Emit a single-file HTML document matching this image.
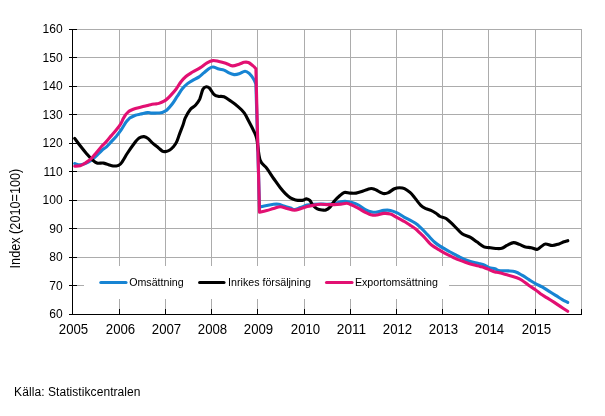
<!DOCTYPE html>
<html><head><meta charset="utf-8"><title>Index (2010=100)</title>
<style>
html,body{margin:0;padding:0;background:#fff;}
body{width:605px;height:416px;overflow:hidden;position:relative;font-family:"Liberation Sans",Arial,sans-serif;color:#000;}
svg{position:absolute;left:0;top:0;display:block;}
text{font-family:"Liberation Sans",Arial,sans-serif;fill:#000;}
</style></head><body>
<svg width="605" height="416" viewBox="0 0 605 416">
<rect width="605" height="416" fill="#fff"/>
<g shape-rendering="crispEdges" fill="#acacac">
<rect x="73" y="29" width="509" height="1"/>
<rect x="73" y="57" width="509" height="1"/>
<rect x="73" y="86" width="509" height="1"/>
<rect x="73" y="114" width="509" height="1"/>
<rect x="73" y="143" width="509" height="1"/>
<rect x="73" y="171" width="509" height="1"/>
<rect x="73" y="200" width="509" height="1"/>
<rect x="73" y="228" width="509" height="1"/>
<rect x="73" y="257" width="509" height="1"/>
<rect x="73" y="285" width="509" height="1"/>
<rect x="119" y="29" width="1" height="285"/>
<rect x="165" y="29" width="1" height="285"/>
<rect x="211" y="29" width="1" height="285"/>
<rect x="257" y="29" width="1" height="285"/>
<rect x="304" y="29" width="1" height="285"/>
<rect x="350" y="29" width="1" height="285"/>
<rect x="396" y="29" width="1" height="285"/>
<rect x="442" y="29" width="1" height="285"/>
<rect x="488" y="29" width="1" height="285"/>
<rect x="535" y="29" width="1" height="285"/>
<rect x="581" y="29" width="1" height="285"/>
</g>
<rect x="84" y="266" width="365" height="33" fill="#fff"/>
<g shape-rendering="crispEdges" fill="#000">
<rect x="72" y="29" width="1" height="286"/>
<rect x="69" y="314" width="513" height="1"/>
<rect x="69" y="29" width="8" height="1"/>
<rect x="69" y="57" width="8" height="1"/>
<rect x="69" y="86" width="8" height="1"/>
<rect x="69" y="114" width="8" height="1"/>
<rect x="69" y="143" width="8" height="1"/>
<rect x="69" y="171" width="8" height="1"/>
<rect x="69" y="200" width="8" height="1"/>
<rect x="69" y="228" width="8" height="1"/>
<rect x="69" y="257" width="8" height="1"/>
<rect x="69" y="285" width="8" height="1"/>
<rect x="119" y="309" width="1" height="5"/>
<rect x="165" y="309" width="1" height="5"/>
<rect x="211" y="309" width="1" height="5"/>
<rect x="257" y="309" width="1" height="5"/>
<rect x="304" y="309" width="1" height="5"/>
<rect x="350" y="309" width="1" height="5"/>
<rect x="396" y="309" width="1" height="5"/>
<rect x="442" y="309" width="1" height="5"/>
<rect x="488" y="309" width="1" height="5"/>
<rect x="535" y="309" width="1" height="5"/>
<rect x="581" y="309" width="1" height="5"/>
</g>
<g fill="none" stroke-width="3.1" stroke-linecap="round" stroke-linejoin="round">
<path stroke="#1784d3" d="M74.7,163.6C75.6,163.8 78.3,164.8 80.1,164.8C81.8,164.8 83.4,164.2 85.2,163.5C87.0,162.8 89.1,161.8 91.0,160.5C92.9,159.2 94.9,157.3 96.7,155.6C98.5,153.9 100.1,152.0 101.7,150.5C103.3,149.0 104.8,148.3 106.5,146.8C108.2,145.3 109.9,143.2 111.6,141.4C113.3,139.6 114.9,137.9 116.6,135.9C118.2,133.9 119.9,131.6 121.5,129.3C123.1,127.0 124.9,123.8 126.0,122.2C127.1,120.6 127.5,120.3 128.2,119.6C128.9,118.8 129.2,118.4 130.4,117.7C131.6,117.0 133.7,115.8 135.4,115.2C137.1,114.6 138.5,114.5 140.5,114.1C142.5,113.7 145.8,112.8 147.5,112.6C149.2,112.4 149.8,113.0 151.0,113.1C152.2,113.2 153.3,113.1 155.0,113.1C156.7,113.0 159.2,113.1 160.9,112.8C162.6,112.5 163.9,111.6 165.0,111.1C166.1,110.6 166.1,110.9 167.3,109.7C168.5,108.5 170.7,106.0 172.4,103.8C174.1,101.5 175.7,98.7 177.4,96.2C179.1,93.7 180.8,90.7 182.5,88.6C184.2,86.5 185.6,85.1 187.5,83.6C189.4,82.1 192.1,80.7 194.0,79.6C195.9,78.5 197.1,78.2 198.7,77.1C200.3,76.0 202.1,74.3 203.8,72.9C205.5,71.5 207.3,69.7 208.8,68.7C210.3,67.7 211.3,66.9 213.0,67.0C214.7,67.1 217.1,68.6 218.9,69.1C220.7,69.6 222.3,69.5 224.0,70.1C225.7,70.7 227.3,72.2 229.0,72.9C230.7,73.7 232.4,74.4 234.1,74.6C235.8,74.8 237.3,74.4 239.1,73.8C240.9,73.2 243.3,71.3 245.0,71.2C246.7,71.1 247.8,72.1 249.2,73.4C250.6,74.7 252.3,77.0 253.4,78.8C254.5,80.6 255.5,83.1 255.9,84.0L259.5,207.1C260.7,206.8 264.4,206.0 266.8,205.5C269.2,205.0 271.6,204.5 273.6,204.3C275.6,204.1 276.9,204.0 278.6,204.3C280.3,204.6 281.7,205.4 283.7,206.0C285.7,206.6 288.6,207.4 290.4,208.0C292.2,208.6 292.9,209.6 294.6,209.5C296.3,209.4 298.4,208.2 300.5,207.5C302.6,206.8 304.9,205.6 307.2,205.1C309.4,204.6 311.8,204.5 314.0,204.3C316.2,204.1 318.5,204.0 320.7,204.0C322.9,204.0 325.1,204.3 327.4,204.2C329.6,204.1 332.1,203.9 334.2,203.5C336.3,203.1 338.2,202.4 340.0,202.0C341.8,201.6 343.1,201.2 345.1,201.3C347.1,201.4 349.6,201.9 351.8,202.5C354.0,203.1 356.2,203.8 358.5,205.0C360.8,206.2 363.1,208.4 365.3,209.6C367.6,210.8 370.1,211.7 372.0,212.1C373.9,212.5 375.0,212.4 377.0,212.1C379.0,211.8 381.6,210.7 383.8,210.4C386.1,210.1 388.3,210.0 390.5,210.4C392.7,210.8 394.9,211.8 397.2,212.9C399.4,214.0 401.9,215.9 404.0,217.1C406.1,218.3 408.1,219.1 410.0,220.1C411.9,221.1 413.4,221.9 415.1,223.1C416.8,224.3 418.4,225.6 420.1,227.1C421.8,228.6 423.5,230.4 425.2,232.2C426.9,234.0 428.6,236.0 430.2,237.7C431.8,239.4 433.4,241.1 435.0,242.5C436.6,243.9 438.3,245.0 440.0,246.1C441.7,247.2 443.4,248.1 445.1,249.1C446.8,250.1 448.5,251.1 450.2,252.0C451.9,252.9 453.5,253.8 455.2,254.7C456.9,255.6 458.5,256.5 460.2,257.3C461.9,258.1 463.6,259.0 465.3,259.7C467.0,260.4 468.7,260.9 470.4,261.4C472.1,261.9 473.8,262.4 475.4,262.8C477.0,263.2 478.6,263.5 480.0,263.8C481.4,264.1 482.4,264.4 483.5,264.8C484.6,265.2 485.5,265.7 486.5,266.2C487.5,266.7 488.1,267.3 489.5,267.7C490.9,268.1 493.5,268.4 495.0,268.8C496.5,269.2 496.2,270.0 498.4,270.4C500.6,270.8 505.6,270.7 508.4,270.9C511.2,271.1 513.0,271.1 515.2,271.8C517.5,272.5 519.7,273.9 521.9,275.2C524.1,276.5 526.4,278.0 528.6,279.4C530.9,280.8 533.1,282.4 535.4,283.6C537.6,284.9 539.9,285.6 542.1,286.9C544.3,288.1 546.5,289.7 548.8,291.1C551.0,292.5 553.4,294.0 555.6,295.4C557.9,296.8 560.3,298.4 562.3,299.6C564.3,300.8 566.8,301.9 567.7,302.4"/>
<path stroke="#000" d="M74.7,138.4C75.6,139.6 78.0,142.9 80.0,145.5C82.0,148.1 84.8,151.6 86.8,153.9C88.8,156.2 90.3,158.0 92.0,159.5C93.7,161.0 95.0,162.5 96.9,163.1C98.9,163.7 101.5,162.7 103.7,163.1C106.0,163.5 108.4,164.8 110.4,165.3C112.4,165.8 113.8,166.2 115.5,166.0C117.2,165.8 118.5,166.1 120.5,164.0C122.5,161.9 125.0,156.9 127.2,153.5C129.4,150.1 132.0,146.3 134.0,143.7C136.0,141.1 137.4,139.3 139.1,138.1C140.8,136.9 142.6,136.5 144.1,136.6C145.6,136.7 146.7,137.4 148.2,138.6C149.7,139.8 151.5,142.2 153.2,143.7C154.9,145.2 156.8,146.5 158.3,147.7C159.8,148.9 161.1,150.4 162.3,151.1C163.5,151.8 164.2,151.7 165.4,151.6C166.6,151.5 168.1,151.1 169.4,150.3C170.7,149.5 172.2,148.0 173.4,146.7C174.6,145.3 175.5,144.3 176.5,142.2C177.5,140.1 178.4,137.0 179.5,134.1C180.6,131.2 182.0,127.7 183.0,125.0C184.0,122.3 184.1,120.5 185.3,117.9C186.5,115.3 188.6,111.6 190.3,109.5C192.0,107.4 193.9,107.0 195.4,105.3C196.9,103.6 198.3,102.1 199.6,99.4C200.8,96.7 201.8,91.4 202.9,89.3C204.0,87.2 205.2,86.8 206.3,86.7C207.4,86.6 208.4,87.1 209.7,88.4C211.0,89.7 212.5,93.0 213.9,94.3C215.3,95.6 216.4,95.9 218.1,96.3C219.8,96.7 221.9,96.0 224.0,96.8C226.1,97.6 228.5,99.5 230.7,101.0C232.9,102.5 235.2,104.1 237.4,106.1C239.7,108.1 242.2,110.1 244.2,112.8C246.2,115.5 247.5,118.9 249.2,122.1C250.9,125.3 253.0,129.4 254.3,132.2C255.6,135.0 255.8,134.3 256.8,138.9C257.8,143.5 258.4,155.1 260.1,160.0C261.8,164.9 264.6,165.3 266.8,168.4C269.1,171.5 271.4,175.3 273.6,178.5C275.9,181.7 278.3,185.3 280.3,187.8C282.3,190.3 283.7,192.0 285.4,193.7C287.1,195.4 288.7,196.9 290.4,197.9C292.1,198.9 293.8,199.5 295.5,199.9C297.2,200.3 299.1,200.4 300.5,200.4C301.9,200.4 302.9,200.2 303.9,199.9C304.9,199.6 305.4,198.6 306.4,198.7C307.4,198.8 308.7,199.3 309.8,200.4C310.9,201.5 311.9,204.1 313.1,205.5C314.4,206.9 315.8,208.1 317.3,208.8C318.9,209.6 321.0,209.8 322.4,210.0C323.8,210.2 324.5,210.5 325.8,210.0C327.1,209.5 328.6,208.6 330.0,207.1C331.4,205.6 332.7,203.0 334.2,201.2C335.7,199.4 337.5,197.6 339.2,196.2C340.9,194.8 342.5,193.0 344.3,192.5C346.1,192.0 348.1,193.0 350.1,193.1C352.1,193.2 353.9,193.4 356.1,193.1C358.3,192.8 361.2,191.7 363.1,191.1C365.0,190.5 366.1,189.8 367.5,189.4C368.9,189.0 370.0,188.5 371.2,188.5C372.4,188.5 373.5,188.8 374.5,189.2C375.5,189.5 376.2,190.0 377.3,190.6C378.4,191.2 379.8,192.1 381.0,192.6C382.2,193.1 383.1,193.6 384.3,193.6C385.5,193.6 386.7,193.4 388.4,192.6C390.1,191.8 392.5,189.6 394.4,188.8C396.2,188.0 397.8,187.8 399.5,187.8C401.2,187.8 402.8,187.8 404.5,188.6C406.2,189.4 408.4,191.0 410.0,192.4C411.6,193.8 412.3,194.7 414.1,196.9C415.9,199.1 418.8,203.4 420.8,205.4C422.8,207.4 424.2,207.9 425.9,208.7C427.6,209.5 429.2,209.6 430.9,210.4C432.6,211.2 434.4,212.3 436.0,213.3C437.6,214.3 438.5,215.6 440.2,216.5C441.9,217.4 443.9,217.0 446.1,218.5C448.4,220.0 451.0,222.8 453.7,225.3C456.4,227.8 459.3,231.7 462.1,233.7C464.9,235.7 468.0,236.0 470.5,237.4C473.0,238.8 474.9,240.5 477.2,242.1C479.4,243.7 482.0,245.9 484.0,246.8C486.0,247.7 487.0,247.3 489.0,247.6C491.0,247.9 493.7,248.4 495.8,248.5C497.9,248.6 499.9,248.9 501.8,248.3C503.7,247.8 505.4,246.1 507.4,245.2C509.4,244.2 511.6,242.7 513.6,242.6C515.6,242.5 517.5,243.7 519.5,244.4C521.5,245.1 523.4,246.4 525.4,246.9C527.4,247.4 529.2,247.3 531.2,247.7C533.2,248.1 535.4,249.6 537.1,249.4C538.8,249.2 539.9,247.4 541.3,246.5C542.7,245.6 543.8,244.2 545.6,244.0C547.4,243.8 550.1,245.5 552.3,245.5C554.5,245.5 557.0,244.5 559.0,243.9C561.0,243.3 562.6,242.3 564.1,241.8C565.6,241.3 567.2,240.9 567.8,240.7"/>
<path stroke="#e21072" d="M74.7,166.2C75.6,166.1 78.3,166.2 80.1,165.7C81.8,165.2 83.4,164.2 85.2,163.1C87.0,162.0 89.1,160.7 91.0,158.9C92.9,157.1 94.9,154.3 96.7,152.2C98.5,150.1 100.1,148.1 101.7,146.3C103.3,144.5 104.8,143.2 106.5,141.4C108.2,139.6 109.9,137.3 111.6,135.4C113.2,133.5 114.9,131.8 116.4,129.8C117.9,127.9 119.7,125.6 120.8,123.7C121.9,121.8 122.5,120.1 123.3,118.6C124.1,117.1 124.8,115.8 125.5,114.8C126.2,113.8 127.0,113.0 127.8,112.3C128.6,111.6 129.1,111.1 130.4,110.5C131.7,109.9 133.7,109.0 135.4,108.5C137.1,108.0 138.8,107.6 140.5,107.2C142.2,106.8 143.8,106.4 145.5,106.0C147.2,105.6 148.9,105.0 150.5,104.7C152.1,104.4 153.6,104.2 155.0,104.0C156.4,103.8 157.4,103.9 158.9,103.4C160.4,102.9 162.6,102.0 164.0,101.2C165.4,100.4 166.5,99.5 167.6,98.5C168.7,97.5 169.3,96.9 170.7,95.4C172.1,93.9 174.1,91.7 175.8,89.5C177.5,87.3 179.1,84.2 180.8,82.0C182.5,79.8 183.9,78.2 185.9,76.5C187.9,74.8 190.2,73.5 192.6,72.0C195.0,70.5 198.0,69.1 200.4,67.6C202.8,66.1 205.0,64.0 207.1,62.8C209.2,61.6 211.0,60.8 213.0,60.6C215.0,60.4 216.8,61.1 218.9,61.5C221.0,61.9 223.4,62.5 225.7,63.2C227.9,63.9 230.2,65.7 232.4,65.9C234.6,66.1 237.1,64.8 239.1,64.2C241.1,63.6 242.6,62.6 244.2,62.3C245.8,62.0 247.0,62.0 248.4,62.5C249.8,63.0 251.3,64.4 252.6,65.4C253.8,66.4 255.3,68.2 255.9,68.7L259.5,212.3C260.7,212.0 264.4,211.1 266.8,210.5C269.2,209.9 271.4,209.1 273.6,208.5C275.9,207.9 278.1,206.8 280.3,206.8C282.5,206.8 284.6,207.9 287.0,208.5C289.4,209.1 292.4,210.1 294.6,210.2C296.9,210.2 298.4,209.4 300.5,208.8C302.6,208.2 304.9,207.2 307.2,206.6C309.4,206.0 311.8,205.5 314.0,205.1C316.2,204.7 318.5,204.4 320.7,204.3C322.9,204.2 325.1,204.6 327.4,204.6C329.6,204.6 331.9,204.7 334.2,204.6C336.4,204.5 338.8,204.3 340.9,204.1C343.0,203.9 344.9,203.2 346.7,203.3C348.5,203.5 349.8,204.2 351.8,205.0C353.8,205.8 356.2,207.2 358.5,208.4C360.8,209.6 363.1,211.3 365.3,212.4C367.6,213.5 370.1,214.7 372.0,215.1C373.9,215.5 375.0,215.3 377.0,215.0C379.0,214.7 381.6,213.6 383.8,213.4C386.1,213.2 388.3,213.4 390.5,214.1C392.7,214.8 394.9,216.4 397.2,217.6C399.4,218.8 401.9,220.1 404.0,221.3C406.1,222.6 408.1,223.9 410.0,225.1C411.9,226.3 413.4,227.2 415.1,228.6C416.8,229.9 418.4,231.6 420.1,233.2C421.8,234.8 423.5,236.4 425.2,238.2C426.9,240.0 428.6,242.3 430.2,243.8C431.8,245.3 433.4,246.3 435.0,247.4C436.6,248.5 438.3,249.3 440.0,250.3C441.7,251.3 443.4,252.4 445.1,253.3C446.8,254.2 448.5,255.1 450.2,255.9C451.9,256.7 453.5,257.6 455.2,258.3C456.9,259.1 458.5,259.7 460.2,260.4C461.9,261.1 463.6,261.7 465.3,262.3C467.0,262.9 468.7,263.4 470.4,263.9C472.1,264.4 473.8,264.9 475.4,265.3C477.0,265.7 478.6,266.0 480.0,266.4C481.4,266.8 482.4,267.0 483.5,267.4C484.6,267.8 485.5,268.1 486.5,268.5C487.5,268.9 488.1,269.2 489.5,269.8C490.9,270.4 493.5,271.5 495.0,272.0C496.5,272.5 496.2,272.1 498.4,272.6C500.6,273.1 505.3,274.4 508.4,275.2C511.5,276.0 514.5,276.9 516.8,277.7C519.0,278.5 519.9,278.9 521.9,280.2C523.9,281.5 526.4,283.7 528.6,285.3C530.9,286.9 533.4,288.3 535.4,289.7C537.4,291.1 538.4,292.3 540.4,293.7C542.4,295.1 544.9,296.5 547.1,297.9C549.4,299.3 551.6,300.7 553.9,302.1C556.1,303.6 558.3,305.1 560.6,306.6C562.9,308.1 566.5,310.5 567.7,311.3"/>
<path stroke="#1784d3" d="M100.8,282.5H126"/>
<path stroke="#000" d="M199.6,282.5H224"/>
<path stroke="#e21072" d="M326.5,282.5H352"/>
</g>
<g font-size="12" text-anchor="end">
<text x="62.6" y="32.8">160</text>
<text x="62.6" y="61.8">150</text>
<text x="62.6" y="89.8">140</text>
<text x="62.6" y="118.8">130</text>
<text x="62.6" y="146.8">120</text>
<text x="62.6" y="175.8">110</text>
<text x="62.6" y="203.8">100</text>
<text x="62.6" y="232.8">90</text>
<text x="62.6" y="260.8">80</text>
<text x="62.6" y="289.8">70</text>
<text x="62.6" y="317.8">60</text>
</g>
<g font-size="14">
<text x="58.8" y="333.9" textLength="29.4" lengthAdjust="spacingAndGlyphs">2005</text>
<text x="105.8" y="333.9" textLength="29.4" lengthAdjust="spacingAndGlyphs">2006</text>
<text x="151.8" y="333.9" textLength="29.4" lengthAdjust="spacingAndGlyphs">2007</text>
<text x="197.8" y="333.9" textLength="29.4" lengthAdjust="spacingAndGlyphs">2008</text>
<text x="243.8" y="333.9" textLength="29.4" lengthAdjust="spacingAndGlyphs">2009</text>
<text x="290.8" y="333.9" textLength="29.4" lengthAdjust="spacingAndGlyphs">2010</text>
<text x="336.8" y="333.9" textLength="29.4" lengthAdjust="spacingAndGlyphs">2011</text>
<text x="382.8" y="333.9" textLength="29.4" lengthAdjust="spacingAndGlyphs">2012</text>
<text x="428.8" y="333.9" textLength="29.4" lengthAdjust="spacingAndGlyphs">2013</text>
<text x="474.8" y="333.9" textLength="29.4" lengthAdjust="spacingAndGlyphs">2014</text>
<text x="521.8" y="333.9" textLength="29.4" lengthAdjust="spacingAndGlyphs">2015</text>
</g>
<g font-size="10.67">
<text x="129.2" y="286.1">Omsättning</text>
<text x="228.1" y="286.1">Inrikes försäljning</text>
<text x="354.9" y="286.1">Exportomsättning</text>
</g>
<text font-size="14" textLength="99.7" lengthAdjust="spacingAndGlyphs" transform="translate(20.3,268.4) rotate(-90)">Index (2010=100)</text>
<text font-size="12" x="14.1" y="395.7" letter-spacing="0.07">Källa: Statistikcentralen</text>
</svg></body></html>
